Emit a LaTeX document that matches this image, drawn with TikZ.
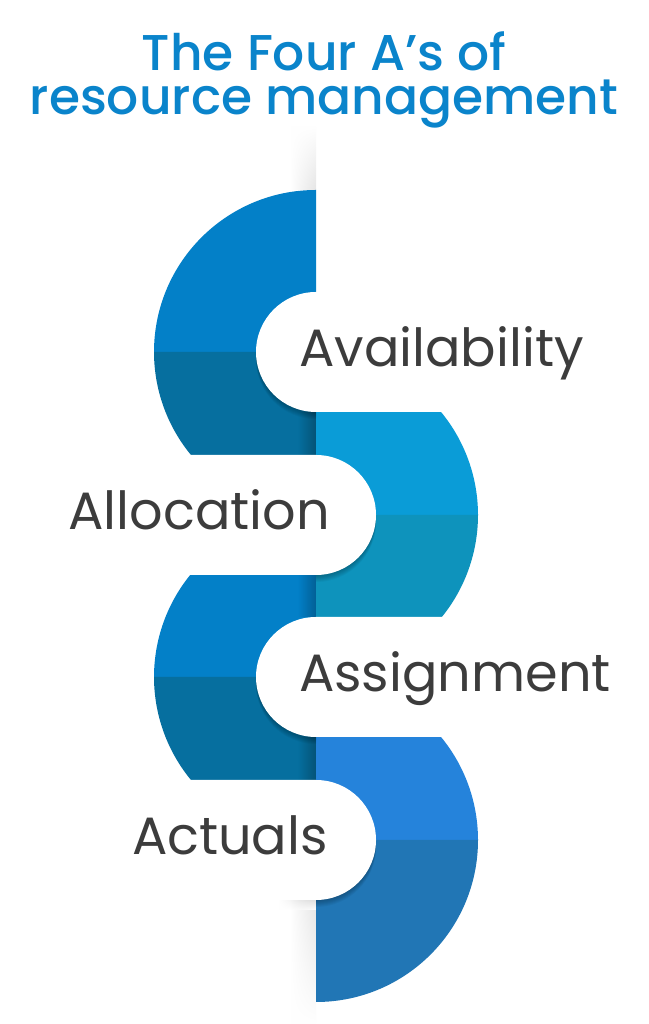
\documentclass[tikz,border=0pt]{standalone}
\usepackage{fontspec}
\setmainfont{Poppins}
\newfontfamily\titlefont{Poppins Medium}
\usetikzlibrary{fadings}

\definecolor{titleblue}{HTML}{0A84CB}
\definecolor{textgray}{HTML}{3C3C3C}
\definecolor{blueA}{HTML}{0380C8}
\definecolor{blueAdark}{HTML}{066F9F}
\definecolor{blueB}{HTML}{0A9CD7}
\definecolor{blueBdark}{HTML}{0E93BC}
\definecolor{blueD}{HTML}{2583DB}
\definecolor{blueDdark}{HTML}{2176B5}

\tikzfading[name=fadeleft, left color=transparent!100, right color=transparent!0]
\tikzfading[name=fadeup, top color=transparent!100, bottom color=transparent!0]
\tikzfading[name=fadedown, top color=transparent!0, bottom color=transparent!100]

% white cut-outs, round end on the left or on the right
\newcommand{\leftpill}[2]{(#1,#2+60) -- (#1+300,#2+60) -- (#1+300,#2-60) -- (#1,#2-60) arc[start angle=270, end angle=90, radius=60] -- cycle}
\newcommand{\rightpill}[2]{(#1,#2+60) -- (#1-316,#2+60) -- (#1-316,#2-60) -- (#1,#2-60) arc[start angle=-90, end angle=90, radius=60] -- cycle}

\begin{document}
\begin{tikzpicture}[x=1pt, y=1pt,
    itemtext/.style={font=\fontsize{52.5}{52.5}\selectfont, text=textgray, inner sep=0pt},
    titletext/.style={font=\titlefont\fontsize{50.3}{50.3}\selectfont, text=titleblue, inner sep=0pt},
    edgeshadow/.style={black, opacity=0.25, path fading=fadeleft}]
    \useasboundingbox (0,0) rectangle (648,1024);
    \fill[white] (0,0) rectangle (648,1024);

    \coordinate (C1) at (316,672);
    \coordinate (C2) at (316,509);
    \coordinate (C3) at (316,347);
    \coordinate (C4) at (316,184);

    % grey band along the middle line
    \shade[left color=white, right color=black!10, path fading=fadeup] (290,834) rectangle (316,898);
    \shade[left color=white, right color=black!10, path fading=fadedown] (290,0) rectangle (316,124);
    \shade[top color=black!12, bottom color=white, path fading=fadeleft] (278,114) rectangle (316,124);

    % the four halves
    \fill[blueA] (C1) -- ++(0,162) arc[start angle=90, end angle=180, radius=162] -- cycle;
    \fill[blueAdark] (C1) -- ++(-162,0) arc[start angle=180, end angle=219.48, radius=162] -- ++(125,0) -- cycle;

    \fill[blueB] (C2) -- ++(162,0) arc[start angle=0, end angle=39.48, radius=162] -- ++(-125,0) -- cycle;
    \fill[blueBdark] (C2) -- ++(162,0) arc[start angle=0, end angle=-39.48, radius=162] -- ++(-125,0) -- cycle;

    \fill[blueA] (C3) -- ++(-162,0) arc[start angle=180, end angle=140.52, radius=162] -- ++(125,0) -- cycle;
    \fill[blueAdark] (C3) -- ++(-162,0) arc[start angle=180, end angle=219.48, radius=162] -- ++(125,0) -- cycle;

    \fill[blueD] (C4) -- ++(162,0) arc[start angle=0, end angle=39.48, radius=162] -- ++(-125,0) -- cycle;
    \fill[blueDdark] (C4) -- ++(0,-162) arc[start angle=-90, end angle=0, radius=162] -- cycle;

    % shadows on the left halves
    \fill[edgeshadow] (298,569) rectangle (316,612);
    \fill[edgeshadow] (298,407) rectangle (316,450);
    \fill[edgeshadow] (298,244) rectangle (316,287);

    % shadows under the cut-outs
    \begin{scope}
        \clip (0,569) rectangle (316,834);
        \foreach \d in {1,...,7} \fill[black, opacity=0.04, yshift={-\d*1pt}] \leftpill{316}{672};
    \end{scope}
    \begin{scope}
        \clip (316,406) rectangle (648,612);
        \foreach \d in {1,...,7} \fill[black, opacity=0.04, yshift={-\d*1pt}] \rightpill{316}{509};
    \end{scope}
    \begin{scope}
        \clip (0,244) rectangle (316,450);
        \foreach \d in {1,...,7} \fill[black, opacity=0.04, yshift={-\d*1pt}] \leftpill{316}{347};
    \end{scope}
    \begin{scope}
        \clip (316,22) rectangle (648,287);
        \foreach \d in {1,...,7} \fill[black, opacity=0.04, yshift={-\d*1pt}] \rightpill{316}{184};
    \end{scope}

    \fill[white] \leftpill{316}{672};
    \fill[white] \rightpill{316}{509};
    \fill[white] \leftpill{316}{347};
    \fill[white] \rightpill{316}{184};

    % labels
    \node[itemtext, anchor=base west] (avail) at ([xshift=-17pt, yshift=-15pt]C1) {Availability};
    \node[itemtext, anchor=base east] (alloc) at ([xshift=14pt, yshift=-15pt]C2) {Allocation};
    \node[itemtext, anchor=base west] (assign) at ([xshift=-17pt, yshift=-15pt]C3) {Assignment};
    \node[itemtext, anchor=base east] (actuals) at ([xshift=12pt, yshift=-15pt]C4) {Actuals};

    % title
    \node[titletext, anchor=base] (title) at (324,953) {The Four A’s of};
    \node[titletext, anchor=base] (subtitle) at ([yshift=-44pt]title.base) {resource management};
\end{tikzpicture}
\end{document}
